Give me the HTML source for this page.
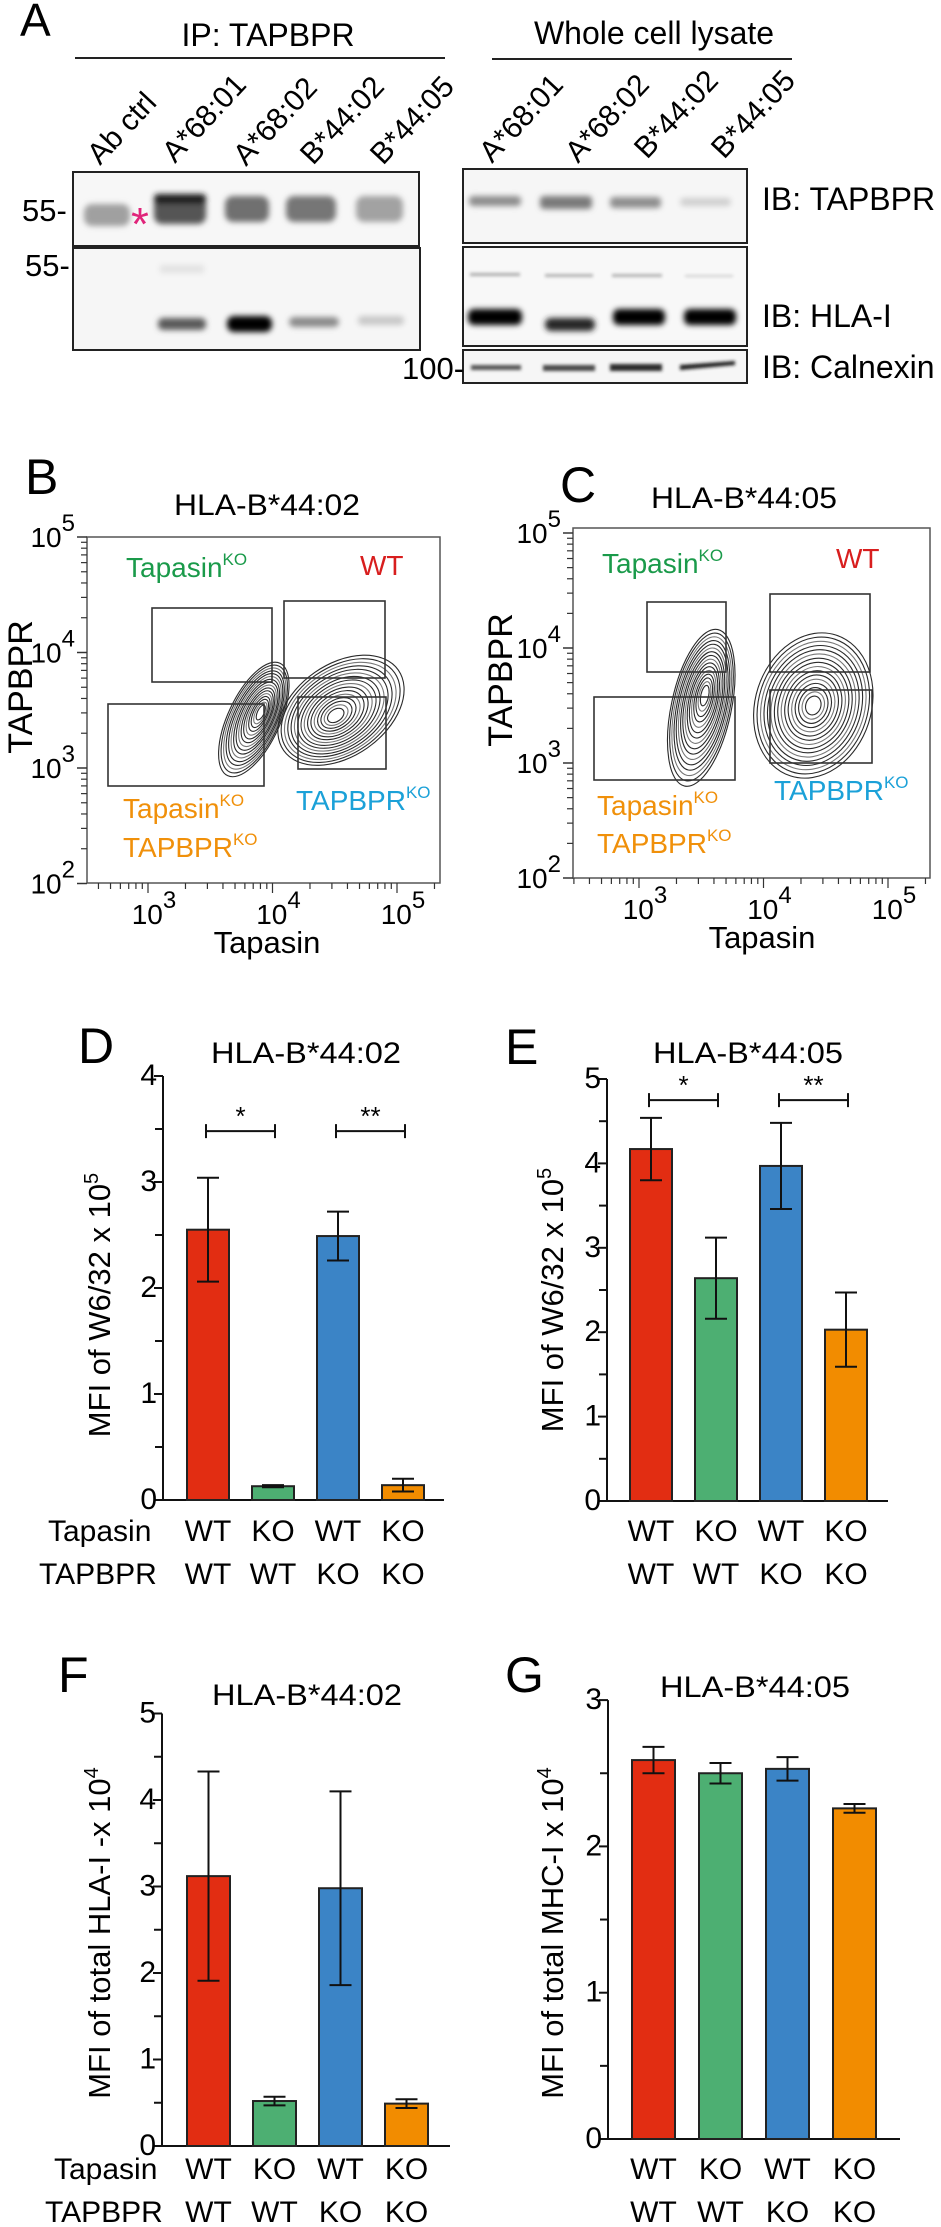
<!DOCTYPE html>
<html><head><meta charset="utf-8">
<style>
html,body{margin:0;padding:0;background:#fff;}
svg{display:block;font-family:"Liberation Sans",Arial,sans-serif;}
</style></head>
<body>
<svg id="fig" xmlns="http://www.w3.org/2000/svg" width="941" height="2227" viewBox="0 0 941 2227">
<defs>
<filter id="blur2" x="-30%" y="-100%" width="160%" height="300%"><feGaussianBlur stdDeviation="3"/></filter>
<filter id="blur1" x="-30%" y="-100%" width="160%" height="300%"><feGaussianBlur stdDeviation="1.6"/></filter>
</defs>

<!-- ================= PANEL A ================= -->
<g>
<text x="20" y="36" font-size="46">A</text>
<text x="268" y="46" font-size="32" text-anchor="middle">IP: TAPBPR</text>
<line x1="75" y1="58" x2="445" y2="58" stroke="#222" stroke-width="2"/>
<text x="654" y="44" font-size="32" text-anchor="middle">Whole cell lysate</text>
<line x1="492" y1="59" x2="792" y2="59" stroke="#222" stroke-width="2"/>

<g font-size="30">
<text transform="translate(100,166) rotate(-47)">Ab ctrl</text>
<text transform="translate(175,164) rotate(-47)">A*68:01</text>
<text transform="translate(246,167) rotate(-47)">A*68:02</text>
<text transform="translate(313,166) rotate(-47)">B*44:02</text>
<text transform="translate(383,166) rotate(-47)">B*44:05</text>
</g>
<g font-size="30">
<text transform="translate(492,164) rotate(-47)">A*68:01</text>
<text transform="translate(578,164) rotate(-47)">A*68:02</text>
<text transform="translate(647,160) rotate(-47)">B*44:02</text>
<text transform="translate(724,160) rotate(-47)">B*44:05</text>
</g>

<g>
<rect x="73" y="172" width="346" height="74" fill="#f7f7f7"/>
<g filter="url(#blur2)">
<rect x="84" y="204" width="46" height="22" rx="8" fill="#a0a0a0"/>
<rect x="154" y="196" width="52" height="28" rx="8" fill="#555"/>
<rect x="154" y="194" width="52" height="10" rx="4" fill="#1a1a1a"/>
<rect x="225" y="196" width="44" height="26" rx="8" fill="#707070"/>
<rect x="286" y="196" width="50" height="26" rx="8" fill="#767676"/>
<rect x="356" y="196" width="47" height="26" rx="8" fill="#a2a2a2"/>
</g>
<rect x="73" y="172" width="346" height="74" fill="none" stroke="#222" stroke-width="2"/>
<text x="140" y="240" font-size="46" fill="#e0247a" text-anchor="middle">*</text>
</g>
<g>
<rect x="73" y="248" width="347" height="102" fill="#f6f6f6"/>
<g filter="url(#blur2)">
<rect x="158" y="318" width="48" height="12" rx="5" fill="#5a5a5a"/>
<rect x="227" y="316" width="45" height="16" rx="7" fill="#000"/>
<rect x="289" y="317" width="50" height="10" rx="5" fill="#8a8a8a"/>
<rect x="358" y="316" width="46" height="9" rx="4" fill="#c8c8c8"/>
<rect x="160" y="265" width="44" height="8" fill="#e2e2e2"/>
</g>
<rect x="73" y="248" width="347" height="102" fill="none" stroke="#222" stroke-width="2"/>
</g>
<text x="22" y="221" font-size="31">55-</text>
<text x="25" y="276" font-size="31">55-</text>

<g>
<rect x="463" y="169" width="284" height="74" fill="#f6f6f6"/>
<g filter="url(#blur2)">
<rect x="469" y="196" width="52" height="10" rx="4" fill="#8c8c8c"/>
<rect x="540" y="196" width="52" height="13" rx="4" fill="#7a7a7a"/>
<rect x="610" y="197" width="51" height="11" rx="4" fill="#8e8e8e"/>
<rect x="680" y="198" width="51" height="8" rx="4" fill="#cfcfcf"/>
</g>
<rect x="463" y="169" width="284" height="74" fill="none" stroke="#222" stroke-width="2"/>
</g>
<g>
<rect x="463" y="247" width="284" height="99" fill="#f8f8f8"/>
<g filter="url(#blur1)">
<rect x="470" y="273" width="50" height="3" fill="#aaa"/>
<rect x="545" y="274" width="48" height="3" fill="#b0b0b0"/>
<rect x="612" y="274" width="50" height="3" fill="#b0b0b0"/>
<rect x="685" y="275" width="48" height="2" fill="#ccc"/>
</g>
<g filter="url(#blur2)">
<rect x="468" y="309" width="54" height="16" rx="6" fill="#050505"/>
<rect x="545" y="318" width="50" height="13" rx="6" fill="#252525"/>
<rect x="613" y="309" width="52" height="16" rx="6" fill="#050505"/>
<rect x="684" y="309" width="52" height="16" rx="6" fill="#050505"/>
</g>
<rect x="463" y="247" width="284" height="99" fill="none" stroke="#222" stroke-width="2"/>
</g>
<g>
<rect x="463" y="350" width="284" height="33" fill="#f6f6f6"/>
<g filter="url(#blur1)">
<rect x="471" y="365" width="50" height="5" fill="#555"/>
<rect x="543" y="365" width="52" height="6" fill="#4a4a4a"/>
<rect x="610" y="364" width="52" height="7" fill="#2a2a2a"/>
<path d="M680 370 L735 365 L735 361 L680 365 Z" fill="#1a1a1a"/>
</g>
<rect x="463" y="350" width="284" height="33" fill="none" stroke="#222" stroke-width="2"/>
</g>
<text x="402" y="379" font-size="31">100-</text>
<text x="762" y="210" font-size="32">IB: TAPBPR</text>
<text x="762" y="327" font-size="32">IB: HLA-I</text>
<text x="762" y="378" font-size="32">IB: Calnexin</text>
</g>

<g id="flow"></g>
<g id="bars"></g>
</svg>

<script>
// ===================== BAR CHART DATA =====================
const tapasinLabels = ['WT','KO','WT','KO'];
const tapbprLabels = ['WT','WT','KO','KO'];
const barColors = ['#e22d12','#4daf72','#3b84c6','#f28c00'];

const dMeans = [2.55, 0.13, 2.49, 0.14];
const dErrs  = [0.49, 0.01, 0.23, 0.06];
const dTicks = [0,1,2,3,4];

const eMeans = [4.17, 2.64, 3.97, 2.03];
const eErrs  = [0.37, 0.48, 0.51, 0.44];
const eTicks = [0,1,2,3,4,5];

const fMeans = [3.12, 0.52, 2.98, 0.49];
const fErrs  = [1.21, 0.05, 1.12, 0.05];
const fTicks = [0,1,2,3,4,5];

const gMeans = [2.59, 2.50, 2.53, 2.26];
const gErrs  = [0.09, 0.07, 0.08, 0.03];
const gTicks = [0,1,2,3];

const dSig = [{from:0,to:1,level:3.48,label:'*'},{from:2,to:3,level:3.48,label:'**'}];
const eSig = [{from:0,to:1,level:4.75,label:'*'},{from:2,to:3,level:4.75,label:'**'}];

const NS='http://www.w3.org/2000/svg';
function mk(tag, attrs, parent){
  const e=document.createElementNS(NS,tag);
  for(const k in attrs) e.setAttribute(k,attrs[k]);
  if(parent) parent.appendChild(e);
  return e;
}

function barChart(cfg){
  const root=document.getElementById('bars');
  const g=mk('g',{},root);
  
  
  const ymax=cfg.ticks[cfg.ticks.length-1];
  const yS=v=>cfg.y0 - v*cfg.ppu;
  const xS=i=>cfg.barLeft + i*cfg.pitch;
  const L=mk('text',{x:cfg.letterX,y:cfg.letterY,'font-size':50},g); L.textContent=cfg.letter;
  
  
  const T=mk('text',{x:cfg.titleX,y:cfg.titleY,'font-size':30,'text-anchor':'middle',textLength:190,lengthAdjust:'spacingAndGlyphs'},g); T.textContent=cfg.title;
  
  
  const ax=mk('line',{x1:cfg.axisX,y1:yS(ymax),x2:cfg.axisX,y2:cfg.y0,stroke:'#111','stroke-width':2},g);
  
  
  const xa=mk('line',{x1:cfg.axisX,y1:cfg.y0,x2:cfg.xEnd,y2:cfg.y0,stroke:'#111','stroke-width':2},g);
  
  
  cfg.ticks.forEach((t,i)=>{
    const tk=mk('line',{x1:cfg.axisX-9,y1:yS(t),x2:cfg.axisX,y2:yS(t),stroke:'#111','stroke-width':2},g);
    
    
    const lb=mk('text',{x:cfg.axisX-6,y:yS(t)+9,'font-size':30,'text-anchor':'end'},g); lb.textContent=t;
    
    
    if(i<cfg.ticks.length-1){
      const mt=mk('line',{x1:cfg.axisX-8,y1:yS(t+0.5),x2:cfg.axisX,y2:yS(t+0.5),stroke:'#111','stroke-width':2},g);
      
      
    }
  });
  const yt=mk('text',{transform:`translate(${cfg.ytX},${cfg.ytY}) rotate(-90)`,'font-size':31,'text-anchor':'middle'},g);
  
  
  yt.appendChild(document.createTextNode(cfg.ytitle));
  const sup=mk('tspan',{'font-size':20,dy:-12},yt); sup.textContent=cfg.exp;
  cfg.means.forEach((m,i)=>{
    const x=xS(i);
    const b=mk('rect',{x:x,y:yS(m),width:cfg.bw,height:cfg.y0-yS(m),fill:barColors[i],stroke:'#222','stroke-width':2},g);
    
    
    const cx=x+cfg.bw/2, e=cfg.errs[i];
    const eb=mk('path',{d:`M${cx} ${yS(m+e)} V${yS(m-e)} M${cx-11} ${yS(m+e)} H${cx+11} M${cx-11} ${yS(m-e)} H${cx+11}`,stroke:'#111','stroke-width':2,fill:'none'},g);
    
    
    const t1=mk('text',{x:cx,y:cfg.row1,'font-size':30,'text-anchor':'middle'},g); t1.textContent=tapasinLabels[i];
    
    
    const t2=mk('text',{x:cx,y:cfg.row2,'font-size':30,'text-anchor':'middle'},g); t2.textContent=tapbprLabels[i];
    
    
  });
  if(cfg.rowLabels){
    const r1=mk('text',{x:cfg.rowLabelX1,y:cfg.row1,'font-size':30},g); r1.textContent='Tapasin';
    
    
    const r2=mk('text',{x:cfg.rowLabelX2,y:cfg.row2,'font-size':30},g); r2.textContent='TAPBPR';
    
    
  }
  (cfg.sig||[]).forEach(s=>{
    const x1=xS(s.from)+cfg.bw/2-2, x2=xS(s.to)+cfg.bw/2+2, y=yS(s.level);
    const br=mk('path',{d:`M${x1} ${y-7} V${y+7} M${x1} ${y} H${x2} M${x2} ${y-7} V${y+7}`,stroke:'#111','stroke-width':2,fill:'none'},g);
    
    
    const st=mk('text',{x:(x1+x2)/2,y:y-6,'font-size':26,'text-anchor':'middle'},g); st.textContent=s.label;
    
    
  });
}

barChart({name:'chart-d',letter:'D',letterX:78,letterY:1063,title:'HLA-B*44:02',titleX:306,titleY:1063,
  means:dMeans,errs:dErrs,ticks:dTicks,axisX:163,y0:1500,ppu:106,xEnd:444,barLeft:187,pitch:65,bw:42,
  ytX:110,ytY:1305,ytitle:'MFI of W6/32 x 10',exp:'5',row1:1541,row2:1584,rowLabels:true,rowLabelX1:48,rowLabelX2:39,sig:dSig});
barChart({name:'chart-e',letter:'E',letterX:505,letterY:1064,title:'HLA-B*44:05',titleX:748,titleY:1063,
  means:eMeans,errs:eErrs,ticks:eTicks,axisX:607,y0:1501,ppu:84.4,xEnd:888,barLeft:630,pitch:65,bw:42,
  ytX:563,ytY:1300,ytitle:'MFI of W6/32 x 10',exp:'5',row1:1541,row2:1584,rowLabels:false,sig:eSig});
barChart({name:'chart-f',letter:'F',letterX:58,letterY:1692,title:'HLA-B*44:02',titleX:307,titleY:1705,
  means:fMeans,errs:fErrs,ticks:fTicks,axisX:162,y0:2146,ppu:86.5,xEnd:450,barLeft:187,pitch:66,bw:43,
  ytX:110,ytY:1933,ytitle:'MFI of total HLA-I -x 10',exp:'4',row1:2179,row2:2222,rowLabels:true,rowLabelX1:54,rowLabelX2:45});
barChart({name:'chart-g',letter:'G',letterX:505,letterY:1692,title:'HLA-B*44:05',titleX:755,titleY:1697,
  means:gMeans,errs:gErrs,ticks:gTicks,axisX:608,y0:2139,ppu:146.3,xEnd:900,barLeft:632,pitch:67,bw:43,
  ytX:563,ytY:1933,ytitle:'MFI of total MHC-I x 10',exp:'4',row1:2179,row2:2222,rowLabels:false});

// ===================== FLOW PLOTS =====================
const flowDecadesY = [2,3,4,5];
const flowDecadesX = [3,4,5];
const bPops = [[3.85,3.42],[4.55,3.5]];
const cPops = [[3.5,3.48],[4.4,3.5]];

function flowPlot(cfg){
  const root=document.getElementById('flow');
  const g=mk('g',{},root);
  
  
  const yS=v=>cfg.y5+(5-v)*cfg.ppdY;
  const xS=v=>cfg.x3+(v-3)*cfg.ppdX;
  const L=mk('text',{x:cfg.letterX,y:cfg.letterY,'font-size':50},g); L.textContent=cfg.letter;
  
  
  const T=mk('text',{x:cfg.titleX,y:cfg.titleY,'font-size':30,'text-anchor':'middle',textLength:186,lengthAdjust:'spacingAndGlyphs'},g); T.textContent=cfg.title;
  
  
  const bx=mk('rect',{x:cfg.bx0,y:cfg.by0,width:cfg.bx1-cfg.bx0,height:cfg.by1-cfg.by0,fill:'none',stroke:'#555','stroke-width':1.5},g);
  
  
  flowDecadesY.forEach(d=>{
    const y=yS(d);
    mk('line',{x1:cfg.bx0-10,y1:y,x2:cfg.bx0,y2:y,stroke:'#333','stroke-width':1.5},g);
    const t=mk('text',{x:cfg.bx0-12,y:y+10,'font-size':28,'text-anchor':'end'},g);
    
    
    t.appendChild(document.createTextNode('10'));
    const s=mk('tspan',{'font-size':24,dy:-16},t); s.textContent=d;
    if(d<5) for(let k=2;k<10;k++){
      const yy=yS(d+Math.log10(k));
      mk('line',{x1:cfg.bx0-6,y1:yy,x2:cfg.bx0,y2:yy,stroke:'#333','stroke-width':1.2},g);
    }
  });
  const xmin=(cfg.bx0-cfg.x3)/cfg.ppdX+3, xmax=(cfg.bx1-cfg.x3)/cfg.ppdX+3;
  for(let d=2; d<=5; d++){
    for(let k=1;k<10;k++){
      const v=d+Math.log10(k); if(v<xmin||v>xmax) continue;
      const x=xS(v);
      mk('line',{x1:x,y1:cfg.by1,x2:x,y2:cfg.by1+(k===1?10:6),stroke:'#333','stroke-width':1.2},g);
    }
  }
  flowDecadesX.forEach(d=>{
    const t=mk('text',{x:xS(d)+6,y:cfg.by1+41,'font-size':28,'text-anchor':'middle'},g);
    
    
    t.appendChild(document.createTextNode('10'));
    const s=mk('tspan',{'font-size':24,dy:-16},t); s.textContent=d;
  });
  const xt=mk('text',{x:cfg.xtX,y:cfg.by1+70,'font-size':31,'text-anchor':'middle'},g); xt.textContent='Tapasin';
  
  
  const yt=mk('text',{transform:`translate(${cfg.ytX},${cfg.ytY}) rotate(-90)`,'font-size':34,'text-anchor':'middle'},g); yt.textContent='TAPBPR';
  
  
  cfg.pops.forEach((p,pi)=>{
    const cx=xS(p[0]), cy=yS(p[1]); const sh=cfg.shapes[pi];
    const cg=mk('g',{},g);
    
    
    for(let k=0;k<16;k++){
      const f=1-k*0.058;
      mk('ellipse',{cx:cx+sh.dx*(1-f),cy:cy+sh.dy*(1-f),rx:sh.rx*f,ry:sh.ry*f,
        transform:`rotate(${sh.rot} ${cx+sh.dx*(1-f)} ${cy+sh.dy*(1-f)})`,fill:'none',stroke:k%3===2?'#777':'#2a2a2a','stroke-width':1.1},cg);
    }
  });
  cfg.gates.forEach(r=>{
    const gr=mk('rect',{x:r[0],y:r[1],width:r[2]-r[0],height:r[3]-r[1],fill:'none',stroke:'#333','stroke-width':1.6},g);
    
    
  });
  cfg.labels.forEach(l=>{
    const t=mk('text',{x:l.x,y:l.y,'font-size':28,fill:l.c},g);
    
    
    t.appendChild(document.createTextNode(l.t));
    if(l.s){const s=mk('tspan',{'font-size':17,dy:-12},t); s.textContent=l.s;}
  });
}

flowPlot({name:'flow-b',letter:'B',letterX:25,letterY:494,title:'HLA-B*44:02',titleX:267,titleY:515,
  bx0:87,bx1:440,by0:537,by1:883,y5:537,ppdY:115.5,x3:148,ppdX:124.5,xtX:267,ytX:32,ytY:687,pops:bPops,
  shapes:[{rx:62,ry:26,rot:-65,dx:8,dy:-8},{rx:70,ry:46,rot:-35,dx:-6,dy:6}],
  gates:[[152,608,272,682],[284,601,385,678],[108,704,264,786],[298,697,386,769]],
  labels:[{x:126,y:577,t:'Tapasin',s:'KO',c:'#1a9a4a',n:'tapasin-ko-gate-label'},{x:360,y:575,t:'WT',c:'#d81e1e',n:'wt-gate-label'},
    {x:123,y:818,t:'Tapasin',s:'KO',c:'#f0900a',n:'double-ko-gate-label-1'},{x:123,y:857,t:'TAPBPR',s:'KO',c:'#f0900a',n:'double-ko-gate-label-2'},
    {x:296,y:810,t:'TAPBPR',s:'KO',c:'#1ba1d8',n:'tapbpr-ko-gate-label'}]});
flowPlot({name:'flow-c',letter:'C',letterX:560,letterY:502,title:'HLA-B*44:05',titleX:744,titleY:508,
  bx0:573,bx1:930,by0:528,by1:878,y5:533,ppdY:115,x3:639,ppdX:124.5,xtX:762,ytX:512,ytY:680,pops:cPops,
  shapes:[{rx:80,ry:30,rot:-78,dx:4,dy:-14},{rx:74,ry:58,rot:-72,dx:0,dy:0}],
  gates:[[647,602,726,672],[770,594,870,672],[594,697,735,780],[770,690,872,763]],
  labels:[{x:602,y:573,t:'Tapasin',s:'KO',c:'#1a9a4a',n:'tapasin-ko-gate-label'},{x:836,y:568,t:'WT',c:'#d81e1e',n:'wt-gate-label'},
    {x:597,y:815,t:'Tapasin',s:'KO',c:'#f0900a',n:'double-ko-gate-label-1'},{x:597,y:853,t:'TAPBPR',s:'KO',c:'#f0900a',n:'double-ko-gate-label-2'},
    {x:774,y:800,t:'TAPBPR',s:'KO',c:'#1ba1d8',n:'tapbpr-ko-gate-label'}]});
</script>
</body></html>
